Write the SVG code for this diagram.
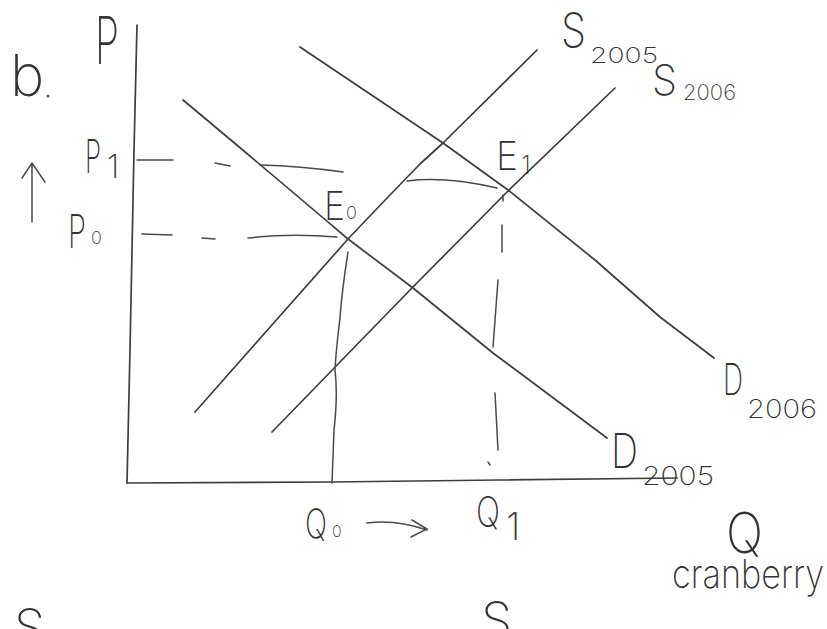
<svg xmlns="http://www.w3.org/2000/svg" width="827" height="629" viewBox="0 0 827 629">
<style>
.ln{stroke:#3d3d3d;stroke-width:1.7;fill:none;stroke-linecap:round;stroke-linejoin:round}
.gd{stroke:#4a4a4a;stroke-width:1.5;fill:none;stroke-linecap:round}
.tx{font-family:Inter,"Open Sans","Liberation Sans",sans-serif;font-weight:200;fill:#333}
</style>
<rect width="827" height="629" fill="#ffffff"/>
<g id="axes">
<path class="ln" d="M137,25 L134,150 L130,350 L127,483"/>
<path class="ln" d="M127,483 L330,482 L500,480 L677,478"/>
</g>
<g id="curves">
<path id="D2005" class="ln" d="M183,100 Q255,160 348,239 L413,288 L493,353 L607,438"/>
<path id="D2006" class="ln" d="M300,47 L443,143 L508,190 L595,260 L660,317 L714,358"/>
<path id="S2005" class="ln" d="M195,412 L348,239 Q385,200 420,164 L443,143 L537,50"/>
<path id="S2006" class="ln" d="M272,432 L410,290 L508,191 L615,88"/>
</g>
<g id="guides">
<path class="gd" d="M137,160 L173,160 M215,163 L230,166 M260,165 Q300,166 343,172"/>
<path class="gd" d="M407,181 Q445,176 497,188"/>
<path class="gd" d="M142,234 L172,235 M202,238 L215,239 M248,238 Q290,233 337,237"/>
<path class="gd" d="M348,252 Q342,290 340,318 Q336,350 335,370 Q338,395 334,430 L332,483"/>
<path class="gd" d="M503,195 L503,201 M502,225 L502,252 M498,280 L493,347 M495,393 L498,450 M488,462 L490,465"/>
<path class="gd" d="M367,523 Q395,519 427,530 M412,520 L427,529 L411,537"/>
<path class="gd" d="M32,222 L32,164 M22,178 L32,163 L45,182"/>
</g>
<g id="labels">
<text class="tx" x="10" y="96" font-size="58">b</text>
<circle cx="48" cy="96" r="1.5" fill="#555"/>
<text class="tx" x="95" y="64" font-size="66" textLength="24" lengthAdjust="spacingAndGlyphs">P</text>
<text class="tx" x="85" y="173" font-size="46" textLength="16" lengthAdjust="spacingAndGlyphs">P</text>
<text class="tx" x="107" y="178" font-size="32">1</text>
<text class="tx" x="68" y="248" font-size="46" textLength="18" lengthAdjust="spacingAndGlyphs">P</text>
<text class="tx" x="91" y="244" font-size="18">0</text>
<text class="tx" x="324" y="220" font-size="40" textLength="21" lengthAdjust="spacingAndGlyphs">E</text>
<text class="tx" x="346" y="219" font-size="18">0</text>
<text class="tx" x="496" y="170" font-size="40" textLength="22" lengthAdjust="spacingAndGlyphs">E</text>
<text class="tx" x="521" y="174" font-size="26">1</text>
<text class="tx" x="561" y="47" font-size="48" textLength="25" lengthAdjust="spacingAndGlyphs">S</text>
<text class="tx" x="590" y="63" font-size="22" textLength="68" lengthAdjust="spacingAndGlyphs">2005</text>
<text class="tx" x="652" y="95" font-size="42" textLength="25" lengthAdjust="spacingAndGlyphs">S</text>
<text class="tx" x="683" y="100" font-size="21" textLength="53" lengthAdjust="spacingAndGlyphs">2006</text>
<text class="tx" x="723" y="395" font-size="44" textLength="20" lengthAdjust="spacingAndGlyphs">D</text>
<text class="tx" x="747" y="418" font-size="26" textLength="70" lengthAdjust="spacingAndGlyphs">2006</text>
<text class="tx" x="611" y="468" font-size="48" textLength="27" lengthAdjust="spacingAndGlyphs">D</text>
<text class="tx" x="642" y="485" font-size="26" textLength="72" lengthAdjust="spacingAndGlyphs">2005</text>
<text class="tx" x="305" y="538" font-size="40" textLength="22" lengthAdjust="spacingAndGlyphs">Q</text>
<text class="tx" x="332" y="537" font-size="16">0</text>
<text class="tx" x="476" y="527" font-size="42" textLength="24" lengthAdjust="spacingAndGlyphs">Q</text>
<text class="tx" x="506" y="540" font-size="38">1</text>
<text class="tx" x="726" y="553" font-size="56" textLength="37" lengthAdjust="spacingAndGlyphs">Q</text>
<text class="tx" x="672" y="588" font-size="40" textLength="152" lengthAdjust="spacingAndGlyphs">cranberry</text>
<text class="tx" x="14" y="645" font-size="50">S</text>
<text class="tx" x="481" y="638" font-size="50">S</text>
</g>
</svg>
